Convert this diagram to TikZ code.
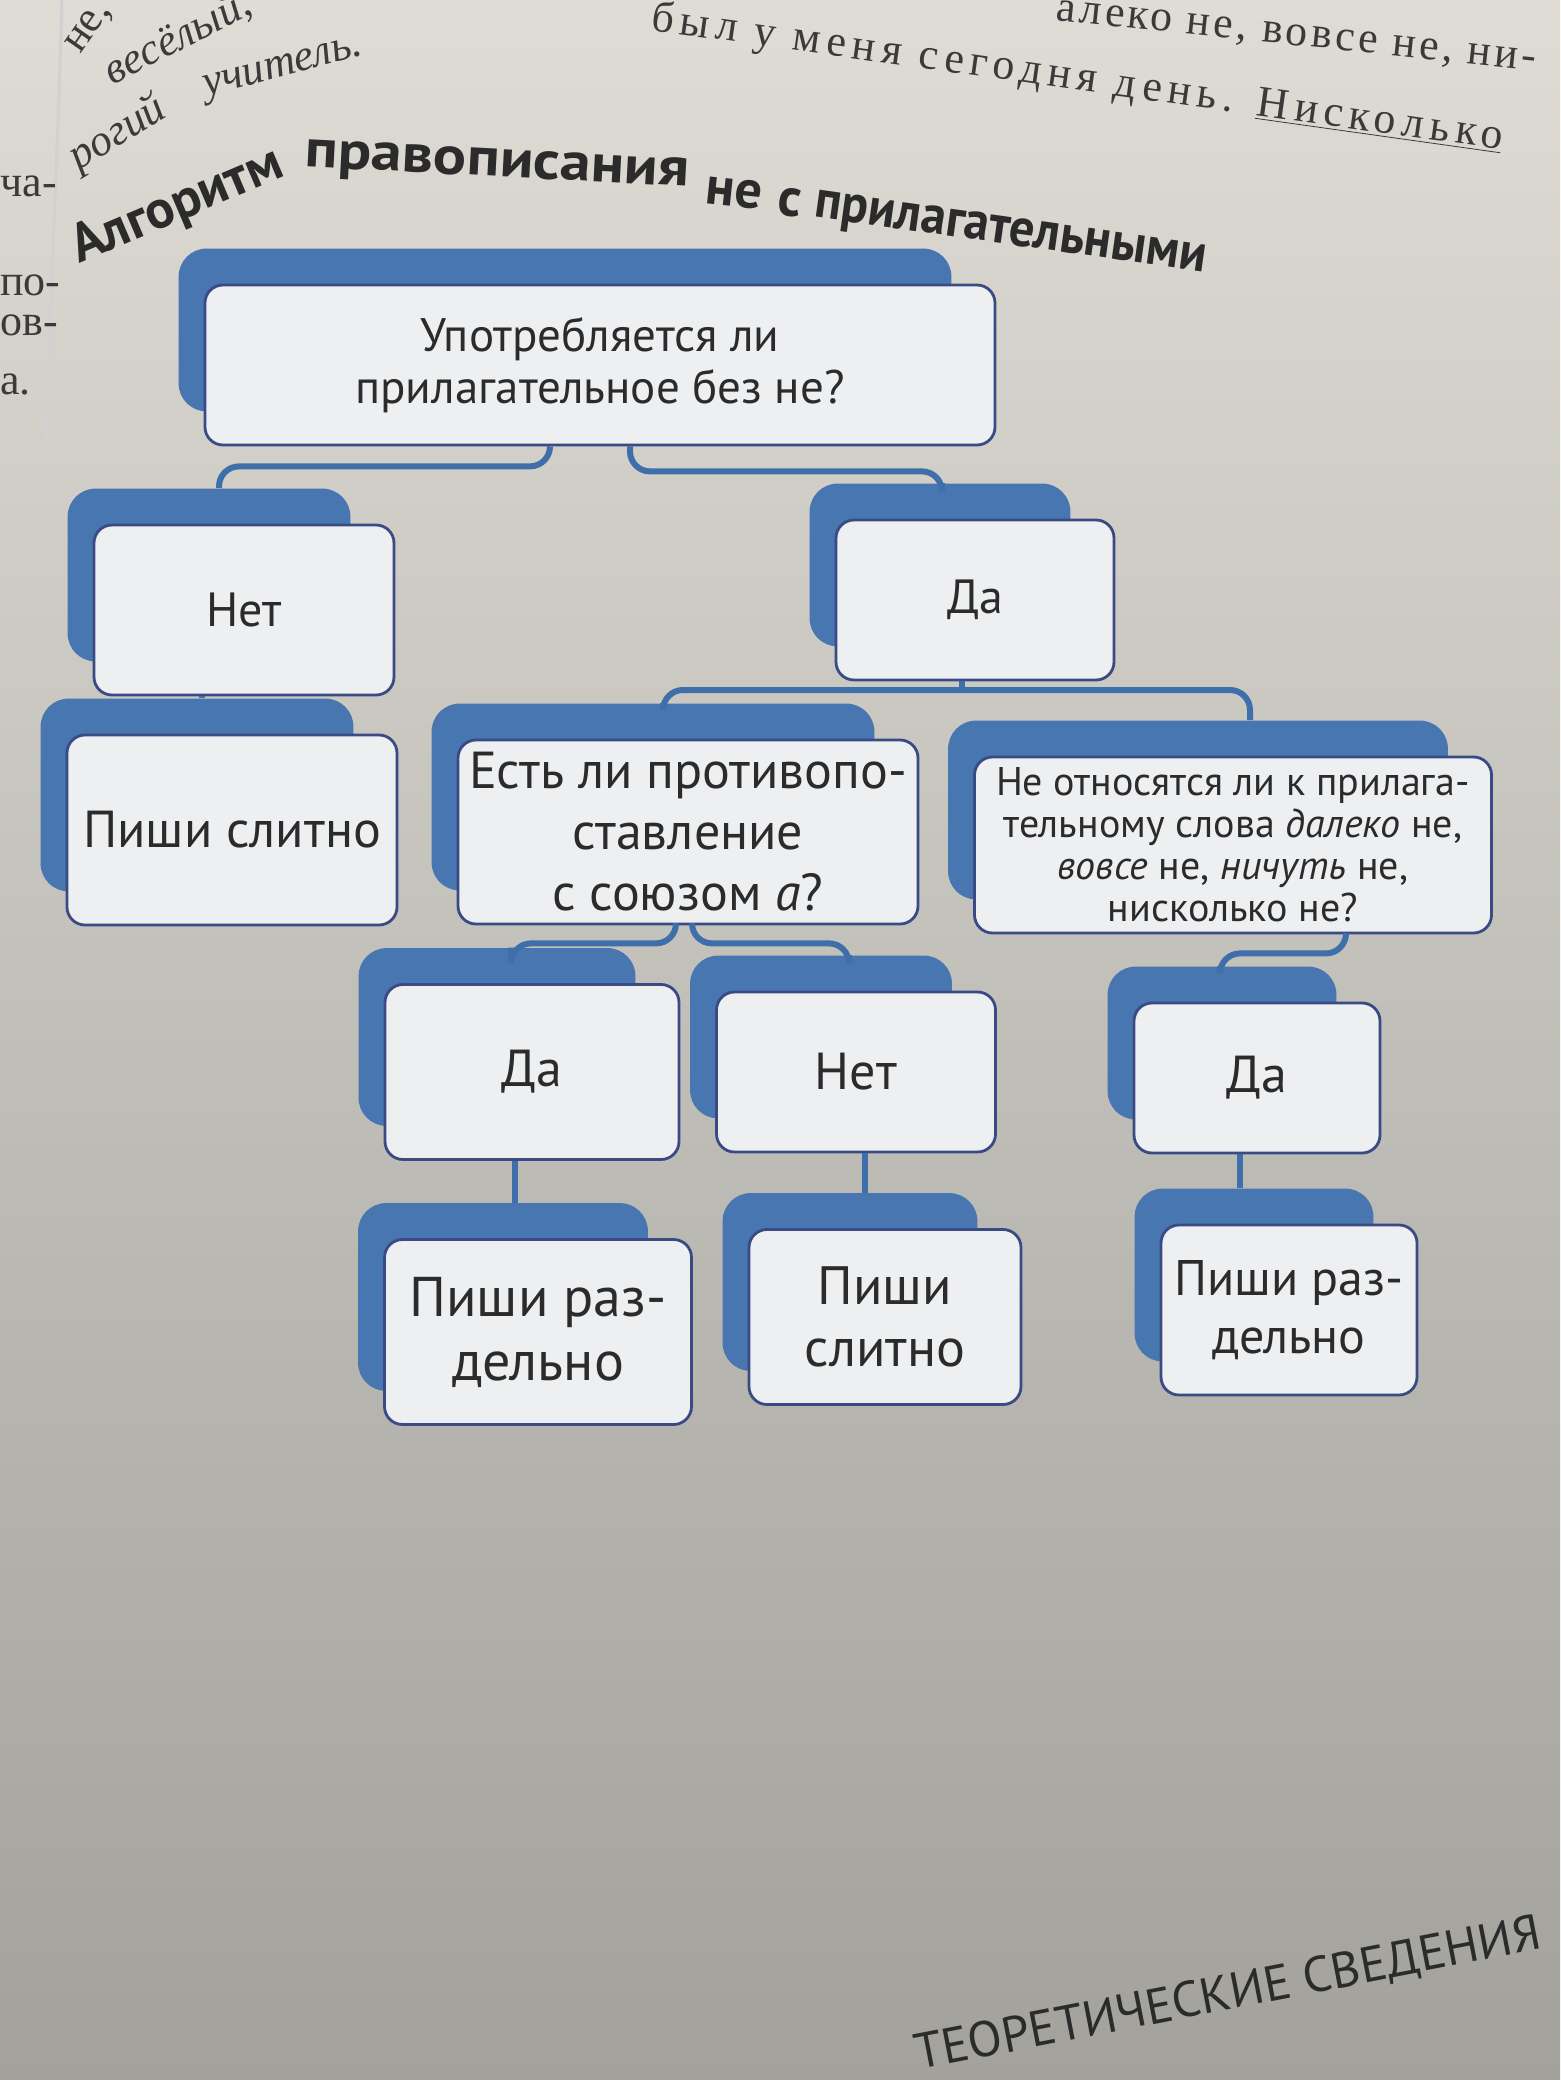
\documentclass[tikz,border=0pt]{standalone}
\usepackage{fontspec}
\setmainfont{PT Sans}
\newfontfamily\pageserif{Liberation Serif}
\usetikzlibrary{calc,backgrounds,fit}
\definecolor{paperT}{HTML}{DEDCD4}
\definecolor{paperM}{HTML}{CDCBC4}
\definecolor{paperB}{HTML}{A2A19C}
\definecolor{bblue}{HTML}{4876B0}
\definecolor{cblue}{HTML}{3F6FAB}
\definecolor{boxfill}{HTML}{EEEFF1}
\definecolor{boxline}{HTML}{3A4A85}
\definecolor{ink}{HTML}{2B2B2B}
\definecolor{pageink}{HTML}{3A3A3A}
\tikzset{
  wbox/.style={draw=boxline, line width=1.4pt, fill=boxfill, rounded corners=9pt,
    align=center, text=ink, inner sep=2pt},
  bback/.style={fill=bblue, rounded corners=14pt, inner sep=0pt, draw=none},
  conn/.style={draw=cblue, line width=3pt, rounded corners=10pt},
  ttl/.style={font=\fontsize{27}{30}\selectfont\bfseries, text=ink, inner sep=0pt},
  ptxt/.style={font=\pageserif\fontsize{22}{24}\selectfont, text=pageink, inner sep=0pt},
  pit/.style={font=\pageserif\itshape\fontsize{22}{24}\selectfont, text=pageink, inner sep=0pt},
  foot/.style={font=\fontsize{25}{28}\selectfont, text=ink, inner sep=0pt},
}
\newcommand\mybox[7][]{%
  \node[wbox, minimum width=#5pt, minimum height=#6pt, #1] (#2) at (#3,#4) {#7};
  \begin{scope}[on background layer]
    \node[bback, fit={($(#2.north west)+(-25,-35)$) ($(#2.south east)+(-45,-35)$)}] (#2b) {};
  \end{scope}}
\begin{document}
\begin{tikzpicture}[x=0.5pt,y=-0.5pt]
\useasboundingbox (0,0) rectangle (1560,2080);
\clip (0,0) rectangle (1560,2080);
\begin{scope}[on background layer]
\shade[top color=paperT, middle color=paperM, bottom color=paperB] (0,0) rectangle (1560,2080);
\draw[line width=1.5pt, black!18] (62,0) .. controls (58,150) and (50,300) .. (46,440);
\end{scope}

% page text fragments
\node[ptxt, rotate=55] (p1) at (100,14) {не, н};
\node[pit, rotate=27] (p2) at (178,38) {весёлый,};
\node[pit, rotate=31] (p3) at (118,134) {рогий};
\node[pit, rotate=15] (p4) at (284,70) {учитель.};
\node[ptxt, rotate=-8, anchor=base west, font=\pageserif\addfontfeature{LetterSpace=14}\fontsize{22}{24}\selectfont] (p5) at (650,30) {был у меня сегодня день. \underline{Нисколько}};
\node[ptxt, rotate=-6, anchor=base west, font=\pageserif\addfontfeature{LetterSpace=8}\fontsize{22}{24}\selectfont] (p6) at (1055,20) {алеко не, вовсе не, ни-};
\node[ptxt, anchor=base west] (m1) at (0,197) {ча-};
\node[ptxt, anchor=base west] (m2) at (0,296) {по-};
\node[ptxt, anchor=base west] (m3) at (0,336) {ов-};
\node[ptxt, anchor=base west] (m4) at (0,395) {а.};

% title
\node[ttl, rotate=23] (t1) at (178,207) {Алгоритм};
\node[ttl, rotate=-3, xscale=1.15] (t2) at (497,168) {правописания};
\node[ttl, rotate=-6] (t3) at (734,193) {не};
\node[ttl, rotate=-7] (t4) at (790,203) {с};
\node[ttl, rotate=-8, xscale=0.93] (t5) at (1010,236) {прилагательными};

% boxes
\mybox[font=\fontsize{23.5}{26}\selectfont]{top}{600}{365}{395}{80}{Употребляется ли\\прилагательное без не?}
\mybox[font=\fontsize{24}{28}\selectfont]{net1}{244}{610}{150}{85}{Нет}
\mybox[font=\fontsize{24}{28}\selectfont]{da1}{975}{600}{139}{80}{Да}
\mybox[font=\fontsize{26}{30}\selectfont]{pis1}{232}{830}{165}{95}{Пиши слитно}
\mybox[font=\fontsize{26}{30.5}\selectfont, inner sep=1pt]{est}{688}{832}{230}{92}{Есть ли противопо-\\ставление\\с союзом \textit{а}?}
\mybox[font=\fontsize{20}{21}\selectfont, inner sep=1pt]{neot}{1233}{845}{258.5}{88}{Не относятся ли к прилага-\\тельному слова \textit{далеко} не,\\\textit{вовсе} не, \textit{ничуть} не,\\нисколько не?}
\mybox[font=\fontsize{26}{30}\selectfont]{da2}{532}{1072}{147}{87.5}{Да}
\mybox[font=\fontsize{26}{30}\selectfont]{net2}{856}{1072}{139.5}{80}{Нет}
\mybox[font=\fontsize{26}{30}\selectfont]{da3}{1257}{1078}{123}{75}{Да}
\mybox[font=\fontsize{28}{32}\selectfont]{raz1}{538}{1332}{153.5}{92.5}{Пиши раз-\\дельно}
\mybox[font=\fontsize{27}{31}\selectfont]{sli2}{885}{1317}{136}{87.5}{Пиши\\слитно}
\mybox[font=\fontsize{25}{29}\selectfont]{raz3}{1289}{1310}{128}{85}{Пиши раз-\\дельно}

% connectors
\coordinate (bus1) at (962,690);
\draw[conn] ([xshift=-25pt]top.south) -- ++(0,20) -| ([xshift=5pt]net1b.north);
\draw[conn] ([xshift=15pt]top.south) -- ++(0,25) -| ([xshift=1pt]da1b.north);
\draw[conn] ([xshift=-21pt]net1.south) -- ([xshift=2.5pt]pis1b.north);
\draw[conn] ([xshift=-6.5pt]da1.south) -- (bus1);
\draw[conn] ([xshift=5pt]estb.north) |- (bus1) -| ([xshift=26pt]neotb.north);
\draw[conn] ([xshift=-6pt]est.south) -- ++(0,18) -| ([xshift=7pt]da2b.north);
\draw[conn] ([xshift=2pt]est.south) -- ++(0,18) -| ([xshift=14pt]net2b.north);
\draw[conn] ([xshift=56.5pt]neot.south) -- ++(0,19) -| ([xshift=-1pt]da3b.north);
\draw[conn] ([xshift=-8.5pt]da2.south) -- ([xshift=6pt]raz1b.north);
\draw[conn] ([xshift=4.5pt]net2.south) -- ([xshift=7.5pt]sli2b.north);
\draw[conn] ([xshift=-8.5pt]da3.south) -- ([xshift=-7pt]raz3b.north);

% footer
\node[foot, rotate=11, anchor=base west] (f1) at (918,2070) {ТЕОРЕТИЧЕСКИЕ СВЕДЕНИЯ};
\end{tikzpicture}
\end{document}
